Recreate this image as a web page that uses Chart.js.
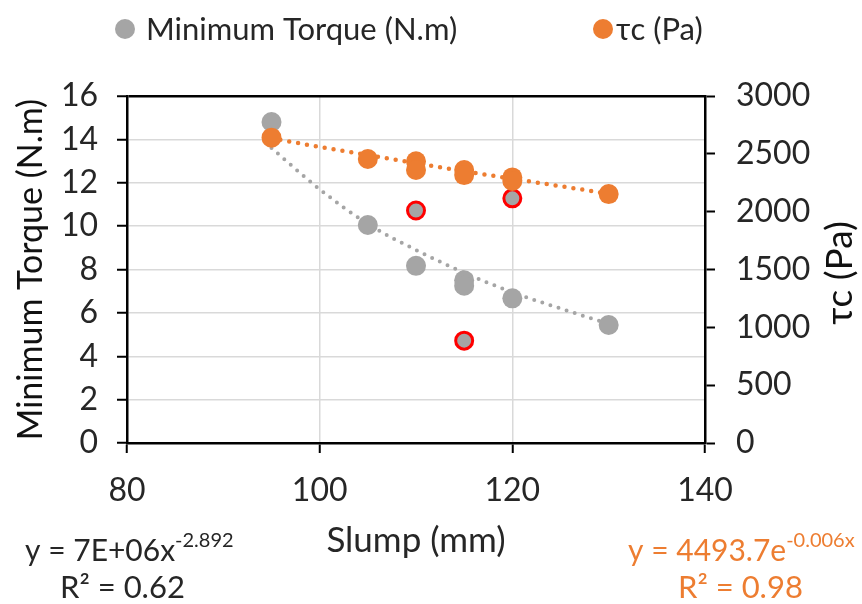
<!DOCTYPE html>
<html>
<head>
<meta charset="utf-8">
<script src="https://cdn.jsdelivr.net/npm/chart.js@4.4.1/dist/chart.umd.min.js"></script>
<style>
  html, body { margin: 0; padding: 0; background: #fff; }
</style>
</head>
<body>
<canvas id="slumpChart" width="862" height="604"></canvas>
<script>
// Values
const torqueSlump  = [95, 105, 110, 115, 115, 120, 130];
const torqueValues = [14.8, 10.05, 8.17, 7.5, 7.25, 6.67, 5.44];
const outlierSlump  = [110, 115, 120];
const outlierTorque = [10.72, 4.72, 11.28];
const tauSlump  = [95, 105, 110, 110, 115, 115, 120, 120, 130];
const tauValues = [2640, 2455, 2435, 2360, 2360, 2316, 2296, 2265, 2152];

// trendlines as drawn in the figure (dotted)
const trendSlump  = [95, 100, 105, 110, 115, 120, 125, 130];
const torqueTrend = [13.6, 11.7, 10.1, 8.9, 7.85, 6.95, 6.2, 5.5];
const tauTrend    = [2635, 2560, 2490, 2420, 2350, 2285, 2220, 2155];

const slumpTicks  = [80, 100, 120, 140];
const torqueTicks = [0, 2, 4, 6, 8, 10, 12, 14, 16];
const tauTicks    = [0, 500, 1000, 1500, 2000, 2500, 3000];

const GRAY = '#A5A5A5';
const ORANGE = '#ED7D31';
const TEXT = '#262626';
const FONT = 'Lato, "Liberation Sans", sans-serif';

const pts = (xs, ys) => xs.map((x, i) => ({ x, y: ys[i] }));

// legend, right-hand title and trendline equations
const extraText = {
  id: 'extraText',
  afterDraw(chart) {
    const ctx = chart.ctx;
    ctx.save();
    ctx.textBaseline = 'alphabetic';

    // legend
    ctx.fillStyle = GRAY;
    ctx.beginPath(); ctx.arc(125, 29, 10, 0, Math.PI * 2); ctx.fill();
    ctx.fillStyle = ORANGE;
    ctx.beginPath(); ctx.arc(603, 29, 10, 0, Math.PI * 2); ctx.fill();
    ctx.fillStyle = TEXT;
    ctx.font = `31px ${FONT}`;
    ctx.fillText('Minimum Torque (N.m)', 146, 40);
    ctx.fillText('\u03c4c (Pa)', 616, 40);

    // right axis title, reads bottom to top
    ctx.save();
    ctx.translate(852, 273);
    ctx.rotate(-Math.PI / 2);
    ctx.textAlign = 'center';
    ctx.font = `37px ${FONT}`;
    ctx.fillStyle = '#111';
    ctx.fillText('\u03c4c (Pa)', 0, 0);
    ctx.restore();

    // power trend equation
    ctx.fillStyle = TEXT;
    ctx.font = `30px ${FONT}`;
    let s = 'y = 7E+06x';
    ctx.fillText(s, 25, 561);
    let w = ctx.measureText(s).width;
    ctx.font = `20px ${FONT}`;
    ctx.fillText('-2.892', 25 + w, 547);
    ctx.font = `31px ${FONT}`;
    ctx.fillText('R\u00b2 = 0.62', 60, 598);

    // exponential trend equation
    ctx.fillStyle = ORANGE;
    ctx.font = `30px ${FONT}`;
    s = 'y = 4493.7e';
    ctx.fillText(s, 628, 561);
    w = ctx.measureText(s).width;
    ctx.font = `20px ${FONT}`;
    ctx.fillText('-0.006x', 628 + w, 547);
    ctx.font = `31px ${FONT}`;
    ctx.fillText('R\u00b2 = 0.98', 678, 598);
    ctx.restore();
  }
};

new Chart(document.getElementById('slumpChart'), {
  type: 'scatter',
  data: {
    datasets: [
      {
        label: '\u03c4c (Pa)',
        data: pts(tauSlump, tauValues),
        yAxisID: 'y2',
        backgroundColor: ORANGE,
        borderWidth: 0,
        pointRadius: 10
      },
      {
        label: 'outliers',
        data: pts(outlierSlump, outlierTorque),
        yAxisID: 'y',
        backgroundColor: GRAY,
        borderColor: '#FF0000',
        borderWidth: 3,
        pointRadius: 8.5
      },
      {
        label: 'Minimum Torque (N.m)',
        data: pts(torqueSlump, torqueValues),
        yAxisID: 'y',
        backgroundColor: GRAY,
        borderWidth: 0,
        pointRadius: 10
      },
      {
        label: 'tau trend',
        data: pts(trendSlump, tauTrend),
        yAxisID: 'y2',
        showLine: true,
        pointRadius: 0,
        borderColor: ORANGE,
        borderWidth: 4.5,
        borderDash: [0, 9],
        borderCapStyle: 'round',
        cubicInterpolationMode: 'monotone'
      },
      {
        label: 'torque trend',
        data: pts(trendSlump, torqueTrend),
        yAxisID: 'y',
        showLine: true,
        pointRadius: 0,
        borderColor: GRAY,
        borderWidth: 4,
        borderDash: [0, 8.5],
        borderCapStyle: 'round',
        cubicInterpolationMode: 'monotone'
      }
    ]
  },
  options: {
    responsive: false,
    animation: false,
    layout: { padding: { top: 96, left: 0, right: 0, bottom: 0 } },
    plugins: {
      legend: { display: false },
      tooltip: { enabled: false }
    },
    scales: {
      x: {
        type: 'linear',
        position: 'bottom',
        min: 80,
        max: 140,
        afterBuildTicks: (scale) => { scale.ticks = slumpTicks.map(v => ({ value: v })); },
        afterFit: (scale) => { scale.height = 161; },
        ticks: { color: TEXT, font: { family: FONT, size: 32 }, padding: 18, callback: (v) => String(v) },
        grid: { color: '#D9D9D9', lineWidth: 1.5, tickColor: '#000', tickLength: 10, tickWidth: 2 },
        border: { color: '#000', width: 2.5 },
        title: {
          display: true,
          text: 'Slump (mm)',
          color: TEXT,
          font: { family: FONT, size: 35 },
          padding: { top: 0, bottom: 42 }
        }
      },
      y: {
        type: 'linear',
        position: 'left',
        min: 0,
        max: 16,
        afterBuildTicks: (scale) => { scale.ticks = torqueTicks.map(v => ({ value: v })); },
        afterFit: (scale) => { scale.width = 127; },
        ticks: { color: TEXT, font: { family: FONT, size: 32 }, padding: 19, callback: (v) => String(v) },
        grid: {
          color: (c) => c.tick && c.tick.value === 16 ? '#000' : '#D9D9D9',
          lineWidth: (c) => c.tick && c.tick.value === 16 ? 2.5 : 1.5,
          tickColor: '#000',
          tickLength: 10,
          tickWidth: 2
        },
        border: { color: '#000', width: 2.5 },
        title: {
          display: true,
          text: 'Minimum Torque (N.m)',
          color: '#111',
          font: { family: FONT, size: 34 },
          padding: { top: 11, bottom: 0 }
        }
      },
      y2: {
        type: 'linear',
        position: 'right',
        min: 0,
        max: 3000,
        afterBuildTicks: (scale) => { scale.ticks = tauTicks.map(v => ({ value: v })); },
        afterFit: (scale) => { scale.width = 157; },
        ticks: { color: TEXT, font: { family: FONT, size: 32 }, padding: 21, callback: (v) => String(v) },
        grid: { drawOnChartArea: false, tickColor: '#000', tickLength: 10, tickWidth: 2 },
        border: { color: '#000', width: 2.5 }
      }
    }
  },
  plugins: [extraText]
});
</script>
</body>
</html>
